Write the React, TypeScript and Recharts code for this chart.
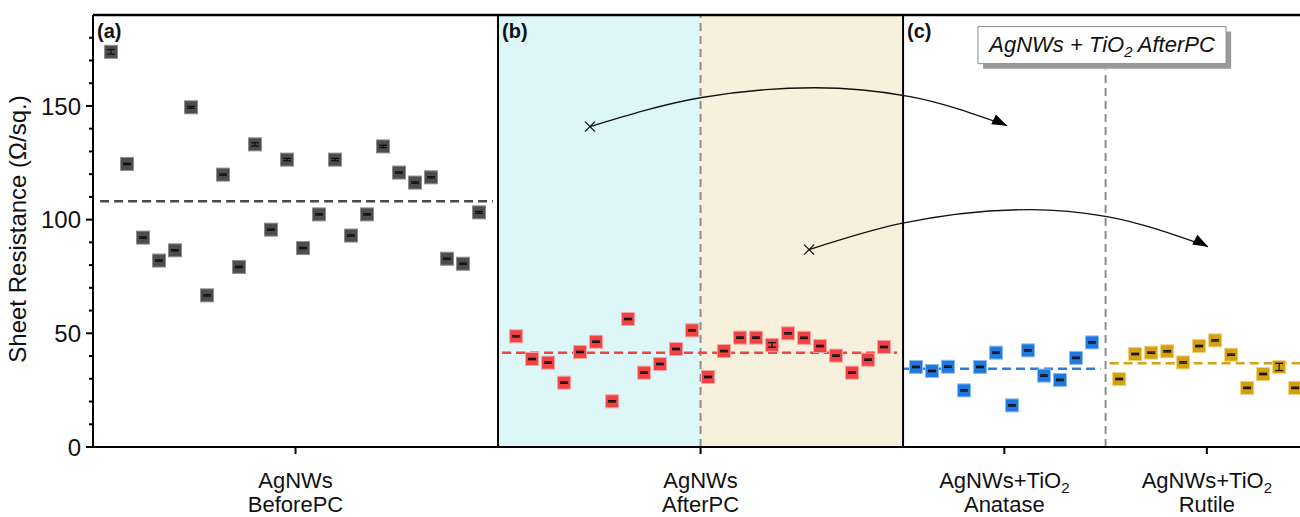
import React from 'react';
import {
  ComposedChart,
  Scatter,
  XAxis,
  YAxis,
  ReferenceLine,
  ReferenceArea,
  Label,
} from 'recharts';

// ---------- data ----------
const beforePC = [173.8, 124.5, 92.1, 82.0, 86.5, 149.4, 66.7, 119.8, 79.2, 133.1, 95.6, 126.4, 87.5, 102.3, 126.4, 93.0, 102.3, 132.2, 120.7, 116.3, 118.6, 82.8, 80.6, 103.2];
const beforeErr = [1.0, 0.3, 0.3, 0.3, 0.3, 0.4, 0.3, 0.3, 0.3, 0.7, 0.3, 0.5, 0.3, 0.3, 0.5, 0.3, 0.3, 0.5, 0.3, 0.3, 0.3, 0.3, 0.3, 0.4];
const afterPC = [48.7, 38.7, 37.1, 28.3, 41.8, 46.3, 20.1, 56.3, 32.7, 36.5, 43.1, 51.3, 30.8, 42.2, 48.1, 48.1, 44.9, 50.0, 48.0, 44.4, 40.2, 32.7, 38.4, 44.0];
const afterErr = [0.3, 0.3, 0.3, 0.3, 0.3, 0.3, 0.3, 0.3, 0.3, 0.3, 0.3, 0.3, 0.3, 0.3, 0.3, 0.3, 1.0, 0.3, 0.3, 0.3, 0.3, 0.3, 0.3, 0.3];
const anatase = [35.2, 33.4, 35.3, 24.9, 35.2, 41.5, 18.3, 42.5, 31.4, 29.5, 39.2, 46.0];
const anataseErr = [0.3, 0.3, 0.3, 0.3, 0.3, 0.3, 0.3, 0.3, 0.3, 0.3, 0.3, 0.3];
const rutile = [29.9, 40.9, 41.5, 42.1, 37.2, 44.4, 46.9, 40.6, 26.0, 32.1, 35.2, 26.0];
const rutileErr = [0.3, 0.3, 0.3, 0.3, 0.3, 0.3, 0.3, 0.3, 0.3, 0.3, 1.6, 0.3];

const meanBefore = 108.1;
const meanAfter = 41.4;
const meanAnatase = 34.4;
const meanRutile = 36.8;

const xTickValues = [1, 3, 4.5, 5.5];
const xTickLabels = [
  ['AgNWs', 'BeforePC'],
  ['AgNWs', 'AfterPC'],
  ['AgNWs+TiO₂', 'Anatase'],
  ['AgNWs+TiO₂', 'Rutile'],
];
const yTicks = [0, 10, 20, 30, 40, 50, 60, 70, 80, 90, 100, 110, 120, 130, 140, 150, 160, 170, 180];

// annotation curves (data coordinates)
const curve1 = [
  { x: 2.454, y: 140.9, kind: 'start' },
  { x: 2.998, y: 153.6, kind: 'mid' },
  { x: 3.565, y: 158.0, kind: 'mid' },
  { x: 4.035, y: 154.1, kind: 'mid' },
  { x: 4.514, y: 141.3, kind: 'end1' },
];
const curve2 = [
  { x: 3.536, y: 86.8, kind: 'start' },
  { x: 3.985, y: 98.2, kind: 'mid' },
  { x: 4.627, y: 104.4, kind: 'mid' },
  { x: 5.007, y: 101.3, kind: 'mid' },
  { x: 5.506, y: 88.1, kind: 'end2' },
];

// ---------- layout ----------
const FONT = 'Liberation Sans, Arial, Helvetica, sans-serif';
const Y_MAX = 190;
const CHART_H = 517;
const MARGIN_TOP = 15;
const XAXIS_H = 70;
const PX_PER_UNIT = (CHART_H - MARGIN_TOP - XAXIS_H) / Y_MAX;
const STEP = 0.079;
const toPoints = (vals: number[], errs: number[], start: number) =>
  vals.map((v, i) => ({ x: start + i * STEP, y: v, err: errs[i] }));

const ptsBefore = toPoints(beforePC, beforeErr, 0.089);
const ptsAfter = toPoints(afterPC, afterErr, 2.089);
const ptsAnatase = toPoints(anatase, anataseErr, 4.064);
const ptsRutile = toPoints(rutile, rutileErr, 5.067);

const makeSquare = (fill: string, stroke: string) => (props: any) => {
  const { cx, cy, payload } = props;
  if (cx == null || cy == null) return <g />;
  const e = Math.max(0.6, (payload?.err ?? 0) * PX_PER_UNIT);
  return (
    <g>
      <rect x={cx - 6.5} y={cy - 6.5} width={13} height={13} fill={fill} stroke={stroke} strokeWidth={1} />
      <line x1={cx} x2={cx} y1={cy - e} y2={cy + e} stroke="#111" strokeWidth={1.2} />
      <line x1={cx - 4} x2={cx + 4} y1={cy - e} y2={cy - e} stroke="#111" strokeWidth={1.3} />
      <line x1={cx - 4} x2={cx + 4} y1={cy + e} y2={cy + e} stroke="#111" strokeWidth={1.3} />
    </g>
  );
};

const arrowAngles: Record<string, number> = { end1: 25, end2: 28 };

const CurveMark = (props: any) => {
  const { cx, cy, payload } = props;
  if (cx == null || cy == null || !payload) return <g />;
  if (payload.kind === 'start') {
    return (
      <g stroke="#111" strokeWidth={1.3}>
        <line x1={cx - 5} y1={cy - 5} x2={cx + 5} y2={cy + 5} />
        <line x1={cx - 5} y1={cy + 5} x2={cx + 5} y2={cy - 5} />
      </g>
    );
  }
  if (payload.kind === 'end1' || payload.kind === 'end2') {
    const a = arrowAngles[payload.kind];
    return (
      <polygon
        points="0,0 -15,-5.5 -15,5.5"
        fill="#000"
        transform={`translate(${cx},${cy}) rotate(${a})`}
      />
    );
  }
  return <g />;
};

const YTick = (props: any) => {
  const { x, y, payload } = props;
  const v = payload.value;
  const major = v % 50 === 0;
  return (
    <g>
      <line x1={x - (major ? 7 : 4)} x2={x} y1={y} y2={y} stroke="#000" strokeWidth={2} />
      {major && (
        <text x={x - 12} y={y} dy="0.36em" textAnchor="end" fontSize={24} fontFamily={FONT} fill="#111">
          {v}
        </text>
      )}
    </g>
  );
};

const renderLine = (s: string, x: number, y: number, key: string) => {
  const parts = s.split('₂');
  return (
    <text key={key} x={x} y={y} textAnchor="middle" fontSize={22} fontFamily={FONT} fill="#111">
      <tspan>{parts[0]}</tspan>
      {parts.length > 1 && (
        <tspan fontSize={15} dy={5}>
          2
        </tspan>
      )}
    </text>
  );
};

const XTick = (props: any) => {
  const { x, y, payload } = props;
  const idx = xTickValues.indexOf(payload.value);
  const lines = idx >= 0 ? xTickLabels[idx] : [];
  return (
    <g>
      <line x1={x} x2={x} y1={y} y2={y + 7} stroke="#000" strokeWidth={2} />
      {lines[0] && renderLine(lines[0], x, y + 41, 'l0')}
      {lines[1] && renderLine(lines[1], x, y + 65, 'l1')}
    </g>
  );
};

const PanelLabel = (props: any) => {
  const { viewBox, text } = props;
  if (!viewBox) return null;
  return (
    <text x={viewBox.x + 4} y={viewBox.y + 23} fontSize={20} fontWeight="bold" fontFamily={FONT} fill="#111">
      {text}
    </text>
  );
};

const BoxLabel = (props: any) => {
  const { viewBox } = props;
  if (!viewBox) return null;
  const { x, y, width, height } = viewBox;
  return (
    <text
      x={x + width / 2}
      y={y + height / 2 + 7}
      textAnchor="middle"
      fontSize={22}
      fontStyle="italic"
      fontFamily={FONT}
      fill="#111"
    >
      <tspan>AgNWs + TiO</tspan>
      <tspan fontSize={15} dy={5}>2</tspan>
      <tspan dy={-5}> AfterPC</tspan>
    </text>
  );
};

const YLabel = () => (
  <text
    transform="translate(26,229) rotate(-90)"
    textAnchor="middle"
    fontSize={24}
    fontFamily={FONT}
    fill="#111"
  >
    Sheet Resistance (Ω/sq.)
  </text>
);

const meanDash = '9 5';

export default function App() {
  return (
    <div style={{ position: 'absolute', left: 0, top: 0, background: '#fff' }}>
      <ComposedChart width={1300} height={CHART_H} margin={{ top: MARGIN_TOP, right: 0, bottom: 0, left: 0 }}>
        <XAxis
          type="number"
          dataKey="x"
          domain={[0, 5.96]}
          allowDataOverflow
          ticks={xTickValues}
          interval={0}
          tick={<XTick />}
          tickLine={false}
          tickSize={0}
          tickMargin={0}
          axisLine={{ stroke: '#000', strokeWidth: 2 }}
          height={XAXIS_H}
        />
        <YAxis
          type="number"
          dataKey="y"
          domain={[0, Y_MAX]}
          allowDataOverflow
          ticks={yTicks}
          interval={0}
          tick={<YTick />}
          tickLine={false}
          tickSize={0}
          tickMargin={0}
          axisLine={{ stroke: '#000', strokeWidth: 2 }}
          width={93}
        >
          <Label content={<YLabel />} />
        </YAxis>

        <ReferenceArea x1={2} x2={3} y1={0} y2={Y_MAX} fill="#ddf7f8" fillOpacity={1} stroke="none" />
        <ReferenceArea x1={3} x2={4} y1={0} y2={Y_MAX} fill="#f7f0dc" fillOpacity={1} stroke="none" />

        <ReferenceLine x={3} stroke="#8d8d8d" strokeWidth={2} strokeDasharray="8 5" />
        <ReferenceLine
          segment={[{ x: 5, y: 0 }, { x: 5, y: 166 }]}
          stroke="#8d8d8d"
          strokeWidth={2}
          strokeDasharray="8 5"
        />
        <ReferenceLine y={Y_MAX} stroke="#000" strokeWidth={2.5} />
        <ReferenceLine x={0} stroke="#000" strokeWidth={2} label={<PanelLabel text="(a)" />} />
        <ReferenceLine x={2} stroke="#000" strokeWidth={2} label={<PanelLabel text="(b)" />} />
        <ReferenceLine x={4} stroke="#000" strokeWidth={2} label={<PanelLabel text="(c)" />} />

        <ReferenceLine
          segment={[{ x: 0.035, y: meanBefore }, { x: 1.975, y: meanBefore }]}
          stroke="#4a4a4a"
          strokeWidth={2.5}
          strokeDasharray={meanDash}
        />
        <ReferenceLine
          segment={[{ x: 2.02, y: meanAfter }, { x: 3.97, y: meanAfter }]}
          stroke="#ef4545"
          strokeWidth={2.5}
          strokeDasharray={meanDash}
        />
        <ReferenceLine
          segment={[{ x: 4.005, y: meanAnatase }, { x: 4.975, y: meanAnatase }]}
          stroke="#2a7be3"
          strokeWidth={2.5}
          strokeDasharray={meanDash}
        />
        <ReferenceLine
          segment={[{ x: 5.02, y: meanRutile }, { x: 5.96, y: meanRutile }]}
          stroke="#d6a21a"
          strokeWidth={2.5}
          strokeDasharray={meanDash}
        />

        <Scatter data={ptsBefore} shape={makeSquare('#4d4d4d', '#8f8f8f')} isAnimationActive={false} />
        <Scatter data={ptsAfter} shape={makeSquare('#f04242', '#f7a3a3')} isAnimationActive={false} />
        <Scatter data={ptsAnatase} shape={makeSquare('#1f78e0', '#8ebdf2')} isAnimationActive={false} />
        <Scatter data={ptsRutile} shape={makeSquare('#d4a010', '#ecd27c')} isAnimationActive={false} />

        <Scatter
          data={curve1}
          line={{ stroke: '#111', strokeWidth: 1.3 }}
          lineJointType="monotoneX"
          shape={CurveMark}
          isAnimationActive={false}
        />
        <Scatter
          data={curve2}
          line={{ stroke: '#111', strokeWidth: 1.3 }}
          lineJointType="monotoneX"
          shape={CurveMark}
          isAnimationActive={false}
        />

        <ReferenceArea x1={4.395} x2={5.62} y1={166.4} y2={182.7} fill="#999" fillOpacity={1} stroke="none" />
        <ReferenceArea
          x1={4.37}
          x2={5.595}
          y1={168.6}
          y2={184.9}
          fill="#fff"
          fillOpacity={1}
          stroke="#8a8a8a"
          strokeWidth={1}
          label={<BoxLabel />}
        />
      </ComposedChart>
    </div>
  );
}
